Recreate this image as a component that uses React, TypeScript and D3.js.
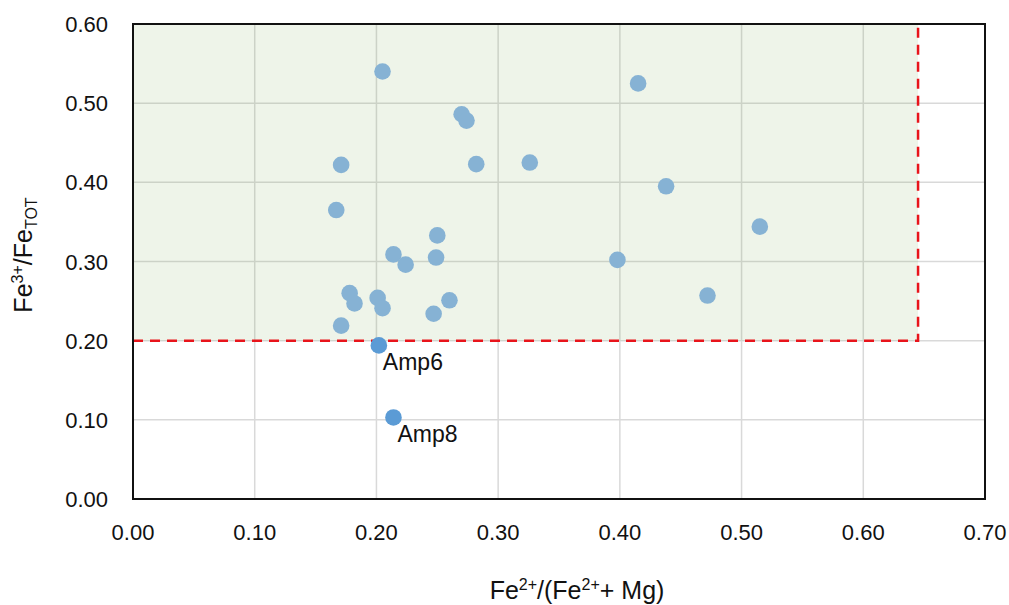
import React, { useEffect, useRef } from "react";
import * as d3 from "d3";

// Fe2+/(Fe2+ + Mg) and Fe3+/FeTOT for each amphibole analysis
const feRatio = [
  0.205, 0.415, 0.27, 0.274, 0.171, 0.282, 0.326, 0.438, 0.167, 0.515,
  0.25, 0.214, 0.249, 0.224, 0.398, 0.178, 0.201, 0.182, 0.26, 0.205,
  0.472, 0.247, 0.171,
];
const fe3Ratio = [
  0.54, 0.525, 0.486, 0.478, 0.422, 0.423, 0.425, 0.395, 0.365, 0.344,
  0.333, 0.309, 0.305, 0.296, 0.302, 0.26, 0.254, 0.247, 0.251, 0.241,
  0.257, 0.234, 0.219,
];

// the two samples that fall below the threshold
const outlierNames = ["Amp6", "Amp8"];
const outlierX = [0.202, 0.214];
const outlierY = [0.194, 0.103];

const xTicks = [0, 0.1, 0.2, 0.3, 0.4, 0.5, 0.6, 0.7];
const yTicks = [0, 0.1, 0.2, 0.3, 0.4, 0.5, 0.6];

// field boundary (dashed box)
const fieldMaxX = 0.645;
const fieldMinY = 0.2;

const W = 1009;
const H = 605;
const font = "'Liberation Sans', Arial, sans-serif";

const Scatter = () => {
  const svgRef = useRef(null);

  useEffect(() => {
    const svg = d3.select(svgRef.current);
    svg.selectAll("*").remove();

    const margin = { top: 24, right: 24, bottom: 106, left: 133 };
    const width = W - margin.left - margin.right;
    const height = H - margin.top - margin.bottom;

    const x = d3.scaleLinear().domain([0, 0.7]).range([0, width]);
    const y = d3.scaleLinear().domain([0, 0.6]).range([height, 0]);

    const g = svg
      .append("g")
      .attr("transform", `translate(${margin.left},${margin.top})`);

    // grid
    g.selectAll(".vgrid")
      .data(xTicks.slice(1))
      .enter()
      .append("line")
      .attr("x1", (d) => x(d))
      .attr("x2", (d) => x(d))
      .attr("y1", 0)
      .attr("y2", height)
      .attr("stroke", "#d9d9d9")
      .attr("stroke-width", 1.5);
    g.selectAll(".hgrid")
      .data(yTicks.slice(1))
      .enter()
      .append("line")
      .attr("x1", 0)
      .attr("x2", width)
      .attr("y1", (d) => y(d))
      .attr("y2", (d) => y(d))
      .attr("stroke", "#d9d9d9")
      .attr("stroke-width", 1.5);

    // shaded field
    g.append("rect")
      .attr("x", x(0))
      .attr("y", y(0.6))
      .attr("width", x(fieldMaxX) - x(0))
      .attr("height", y(fieldMinY) - y(0.6))
      .attr("fill", "#70a84a")
      .attr("fill-opacity", 0.12);

    g.append("path")
      .attr(
        "d",
        d3.line()([
          [x(0), y(fieldMinY)],
          [x(fieldMaxX), y(fieldMinY)],
          [x(fieldMaxX), y(0.6)],
        ])
      )
      .attr("fill", "none")
      .attr("stroke", "#e8141b")
      .attr("stroke-width", 2.5)
      .attr("stroke-dasharray", "10,7");

    // frame
    g.append("rect")
      .attr("width", width)
      .attr("height", height)
      .attr("fill", "none")
      .attr("stroke", "#111")
      .attr("stroke-width", 2);

    // tick labels
    g.selectAll(".xt")
      .data(xTicks)
      .enter()
      .append("text")
      .attr("x", (d) => x(d))
      .attr("y", height + 41)
      .attr("text-anchor", "middle")
      .attr("font-family", font)
      .attr("font-size", 22)
      .attr("fill", "#111")
      .text((d) => d.toFixed(2));
    g.selectAll(".yt")
      .data(yTicks)
      .enter()
      .append("text")
      .attr("x", -25)
      .attr("y", (d) => y(d) + 8)
      .attr("text-anchor", "end")
      .attr("font-family", font)
      .attr("font-size", 22)
      .attr("fill", "#111")
      .text((d) => d.toFixed(2));

    // points
    g.selectAll(".pt")
      .data(feRatio.map((d, i) => [d, fe3Ratio[i]]))
      .enter()
      .append("circle")
      .attr("cx", (d) => x(d[0]))
      .attr("cy", (d) => y(d[1]))
      .attr("r", 8.3)
      .attr("fill", "#86b2d4");

    const out = outlierNames.map((n, i) => ({ n, x: outlierX[i], y: outlierY[i] }));
    g.selectAll(".op")
      .data(out)
      .enter()
      .append("circle")
      .attr("cx", (d) => x(d.x))
      .attr("cy", (d) => y(d.y))
      .attr("r", 8.3)
      .attr("fill", "#5b9bd5");
    g.selectAll(".ol")
      .data(out)
      .enter()
      .append("text")
      .attr("x", (d) => x(d.x) + 4)
      .attr("y", (d) => y(d.y) + 25)
      .attr("font-family", font)
      .attr("font-size", 23)
      .attr("fill", "#111")
      .text((d) => d.n);

    // axis titles
    const xt = svg
      .append("text")
      .attr("x", 577)
      .attr("y", 599)
      .attr("text-anchor", "middle")
      .attr("font-family", font)
      .attr("font-size", 25)
      .attr("fill", "#111");
    xt.append("tspan").text("Fe");
    xt.append("tspan").attr("dy", -9).attr("font-size", 16).text("2+");
    xt.append("tspan").attr("dy", 9).text("/(Fe");
    xt.append("tspan").attr("dy", -9).attr("font-size", 16).text("2+");
    xt.append("tspan").attr("dy", 9).text("+ Mg)");

    const yt = svg
      .append("text")
      .attr("transform", `translate(32,255) rotate(-90)`)
      .attr("text-anchor", "middle")
      .attr("font-family", font)
      .attr("font-size", 25)
      .attr("fill", "#111");
    yt.append("tspan").text("Fe");
    yt.append("tspan").attr("dy", -9).attr("font-size", 16).text("3+");
    yt.append("tspan").attr("dy", 9).text("/Fe");
    yt.append("tspan").attr("dy", 5).attr("font-size", 16).text("TOT");
  }, []);

  return <svg ref={svgRef} width={W} height={H} style={{ display: "block" }}></svg>;
};

const App = () => {
  return (
    <div style={{ position: "absolute", left: 0, top: 0, background: "#fff" }}>
      <Scatter />
    </div>
  );
};

export default App;
